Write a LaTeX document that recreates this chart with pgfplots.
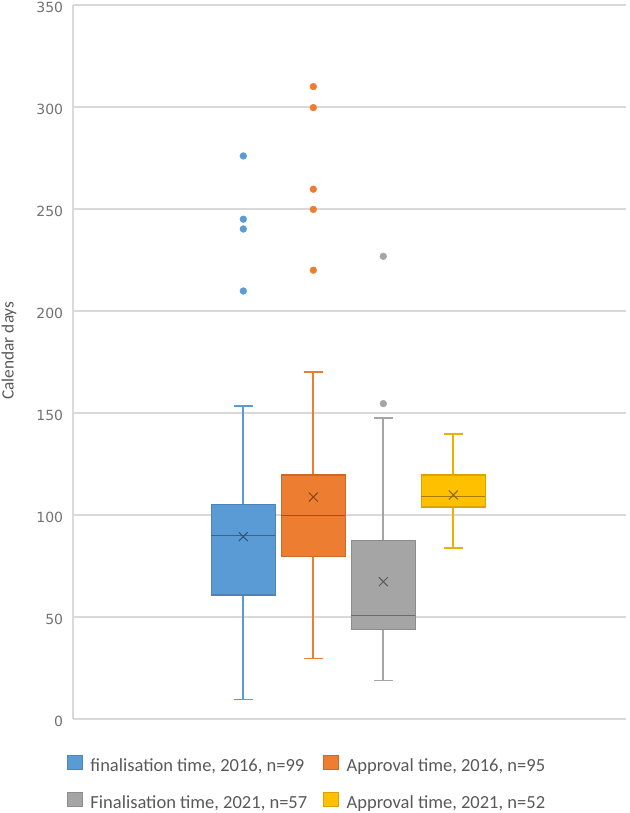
\documentclass[border=0pt]{standalone}
\usepackage{fontspec}
\setmainfont{Carlito}
\newfontfamily\tickfont{DejaVu Sans}
\usepackage{pgfplots}
\pgfplotsset{compat=1.18}
\definecolor{cblue}{HTML}{5B9BD5}
\definecolor{corange}{HTML}{ED7D31}
\definecolor{cgray}{HTML}{A5A5A5}
\definecolor{cyellow}{HTML}{FFC000}
\definecolor{gridc}{HTML}{D9D9D9}
\definecolor{txt}{HTML}{595959}

\begin{document}
\begin{tikzpicture}
\begin{axis}[
  scale only axis,
  width=553pt, height=714pt,
  xmin=-1.433, xmax=6.467,
  ymin=0, ymax=350,
  ytick={0,50,...,350},
  xtick=\empty,
  ymajorgrids=true,
  grid style={gridc, line width=1.1pt},
  separate axis lines,
  axis x line*=bottom,
  axis y line*=left,
  x axis line style={draw=none},
  y axis line style={gridc, line width=1.1pt},
  ytick style={draw=none},
  /pgf/number format/assume math mode=true,
  tick label style={font=\tickfont\fontsize{14}{16}\selectfont, text=txt!85!white},
  yticklabel style={inner sep=0pt, anchor=east, xshift=-9.7pt, yshift=-2.5pt},
  ylabel={Calendar days},
  ylabel style={font=\fontsize{17.3}{19}\selectfont, text=txt,
    at={(axis description cs:-0.1157,0.516)}, anchor=center},
  legend columns=2,
  legend cell align=left,
  legend style={draw=none, fill=none, font=\fontsize{18.5}{20}\selectfont, text=txt,
    inner sep=0pt, outer sep=0pt, nodes={inner sep=0pt},
    at={(axis description cs:0,0)}, anchor=north west,
    xshift=-6.3pt, yshift=-36pt,
    /tikz/every odd column/.append style={column sep=8.4pt},
    /tikz/every even column/.append style={column sep=15.6pt},
    row sep=19pt},
  legend image code/.code={\draw[#1] (0pt,-3.5pt) rectangle (15pt,10.5pt);},
  every axis plot/.append style={forget plot},
]
% ---- finalisation 2016 (x=1)
\addplot[draw=cblue, line width=1.7pt] coordinates {(1,105.2) (1,153.4)};
\addplot[draw=cblue, line width=1.4pt] coordinates {(0.865,153.4) (1.135,153.4)};
\addplot[draw=cblue, line width=1.7pt] coordinates {(1,60.8) (1,9.6)};
\addplot[draw=cblue, line width=1.4pt] coordinates {(0.865,9.6) (1.135,9.6)};
\addplot[fill=cblue, draw=cblue!85!black, line width=1.2pt] coordinates {
  (0.543,60.8) (1.457,60.8) (1.457,105.2) (0.543,105.2)} -- cycle;
\addplot[draw=cblue!65!black, line width=1.2pt] coordinates {(0.543,90) (1.457,90)};
\addplot[only marks, mark=*, mark size=3.4pt, fill=cblue, draw=cblue] coordinates {
  (1,276) (1,245) (1,240.2) (1,209.8)};
% ---- approval 2016 (x=2)
\addplot[draw=corange, line width=1.7pt] coordinates {(2,119.6) (2,170)};
\addplot[draw=corange, line width=1.4pt] coordinates {(1.865,170) (2.135,170)};
\addplot[draw=corange, line width=1.7pt] coordinates {(2,79.6) (2,29.7)};
\addplot[draw=corange, line width=1.4pt] coordinates {(1.865,29.7) (2.135,29.7)};
\addplot[fill=corange, draw=corange!85!black, line width=1.2pt] coordinates {
  (1.543,79.6) (2.457,79.6) (2.457,119.6) (1.543,119.6)} -- cycle;
\addplot[draw=corange!65!black, line width=1.2pt] coordinates {(1.543,99.7) (2.457,99.7)};
\addplot[only marks, mark=*, mark size=3.4pt, fill=corange, draw=corange] coordinates {
  (2,310) (2,299.7) (2,259.7) (2,249.8) (2,220)};
% ---- finalisation 2021 (x=3)
\addplot[draw=cgray, line width=1.7pt] coordinates {(3,87.4) (3,147.5)};
\addplot[draw=cgray, line width=1.4pt] coordinates {(2.865,147.5) (3.135,147.5)};
\addplot[draw=cgray, line width=1.7pt] coordinates {(3,43.9) (3,18.8)};
\addplot[draw=cgray, line width=1.4pt] coordinates {(2.865,18.8) (3.135,18.8)};
\addplot[fill=cgray, draw=cgray!85!black, line width=1.2pt] coordinates {
  (2.543,43.9) (3.457,43.9) (3.457,87.4) (2.543,87.4)} -- cycle;
\addplot[draw=cgray!65!black, line width=1.2pt] coordinates {(2.543,50.8) (3.457,50.8)};
\addplot[only marks, mark=*, mark size=3.4pt, fill=cgray, draw=cgray] coordinates {
  (3,226.8) (3,154.6)};
% ---- approval 2021 (x=4)
\addplot[draw=cyellow!92!black, line width=1.7pt] coordinates {(4,119.6) (4,139.7)};
\addplot[draw=cyellow!92!black, line width=1.4pt] coordinates {(3.865,139.7) (4.135,139.7)};
\addplot[draw=cyellow!92!black, line width=1.7pt] coordinates {(4,103.9) (4,83.8)};
\addplot[draw=cyellow!92!black, line width=1.4pt] coordinates {(3.865,83.8) (4.135,83.8)};
\addplot[fill=cyellow, draw=cyellow!85!black, line width=1.2pt] coordinates {
  (3.543,103.9) (4.457,103.9) (4.457,119.6) (3.543,119.6)} -- cycle;
\addplot[draw=cyellow!65!black, line width=1.2pt] coordinates {(3.543,109) (4.457,109)};
% ---- means
\addplot[only marks, mark=x, mark size=6.3pt, draw=cblue!55!black, line width=1pt] coordinates {(1,89.4)};
\addplot[only marks, mark=x, mark size=6.3pt, draw=corange!55!black, line width=1pt] coordinates {(2,108.8)};
\addplot[only marks, mark=x, mark size=6.3pt, draw=cgray!55!black, line width=1pt] coordinates {(3,67.3)};
\addplot[only marks, mark=x, mark size=6.3pt, draw=cyellow!55!black, line width=1pt] coordinates {(4,109.8)};
\addlegendimage{fill=cblue, draw=cblue!85!black}
\addlegendentry{finalisation time, 2016, n=99}
\addlegendimage{fill=corange, draw=corange!85!black}
\addlegendentry{Approval time, 2016, n=95}
\addlegendimage{fill=cgray, draw=cgray!85!black}
\addlegendentry{Finalisation time, 2021, n=57}
\addlegendimage{fill=cyellow, draw=cyellow!85!black}
\addlegendentry{Approval time, 2021, n=52}
\end{axis}
\pgfresetboundingbox
\path (current axis.south west) ++(-73pt,-94pt) rectangle ++(629pt,813pt);
\end{tikzpicture}
\end{document}
